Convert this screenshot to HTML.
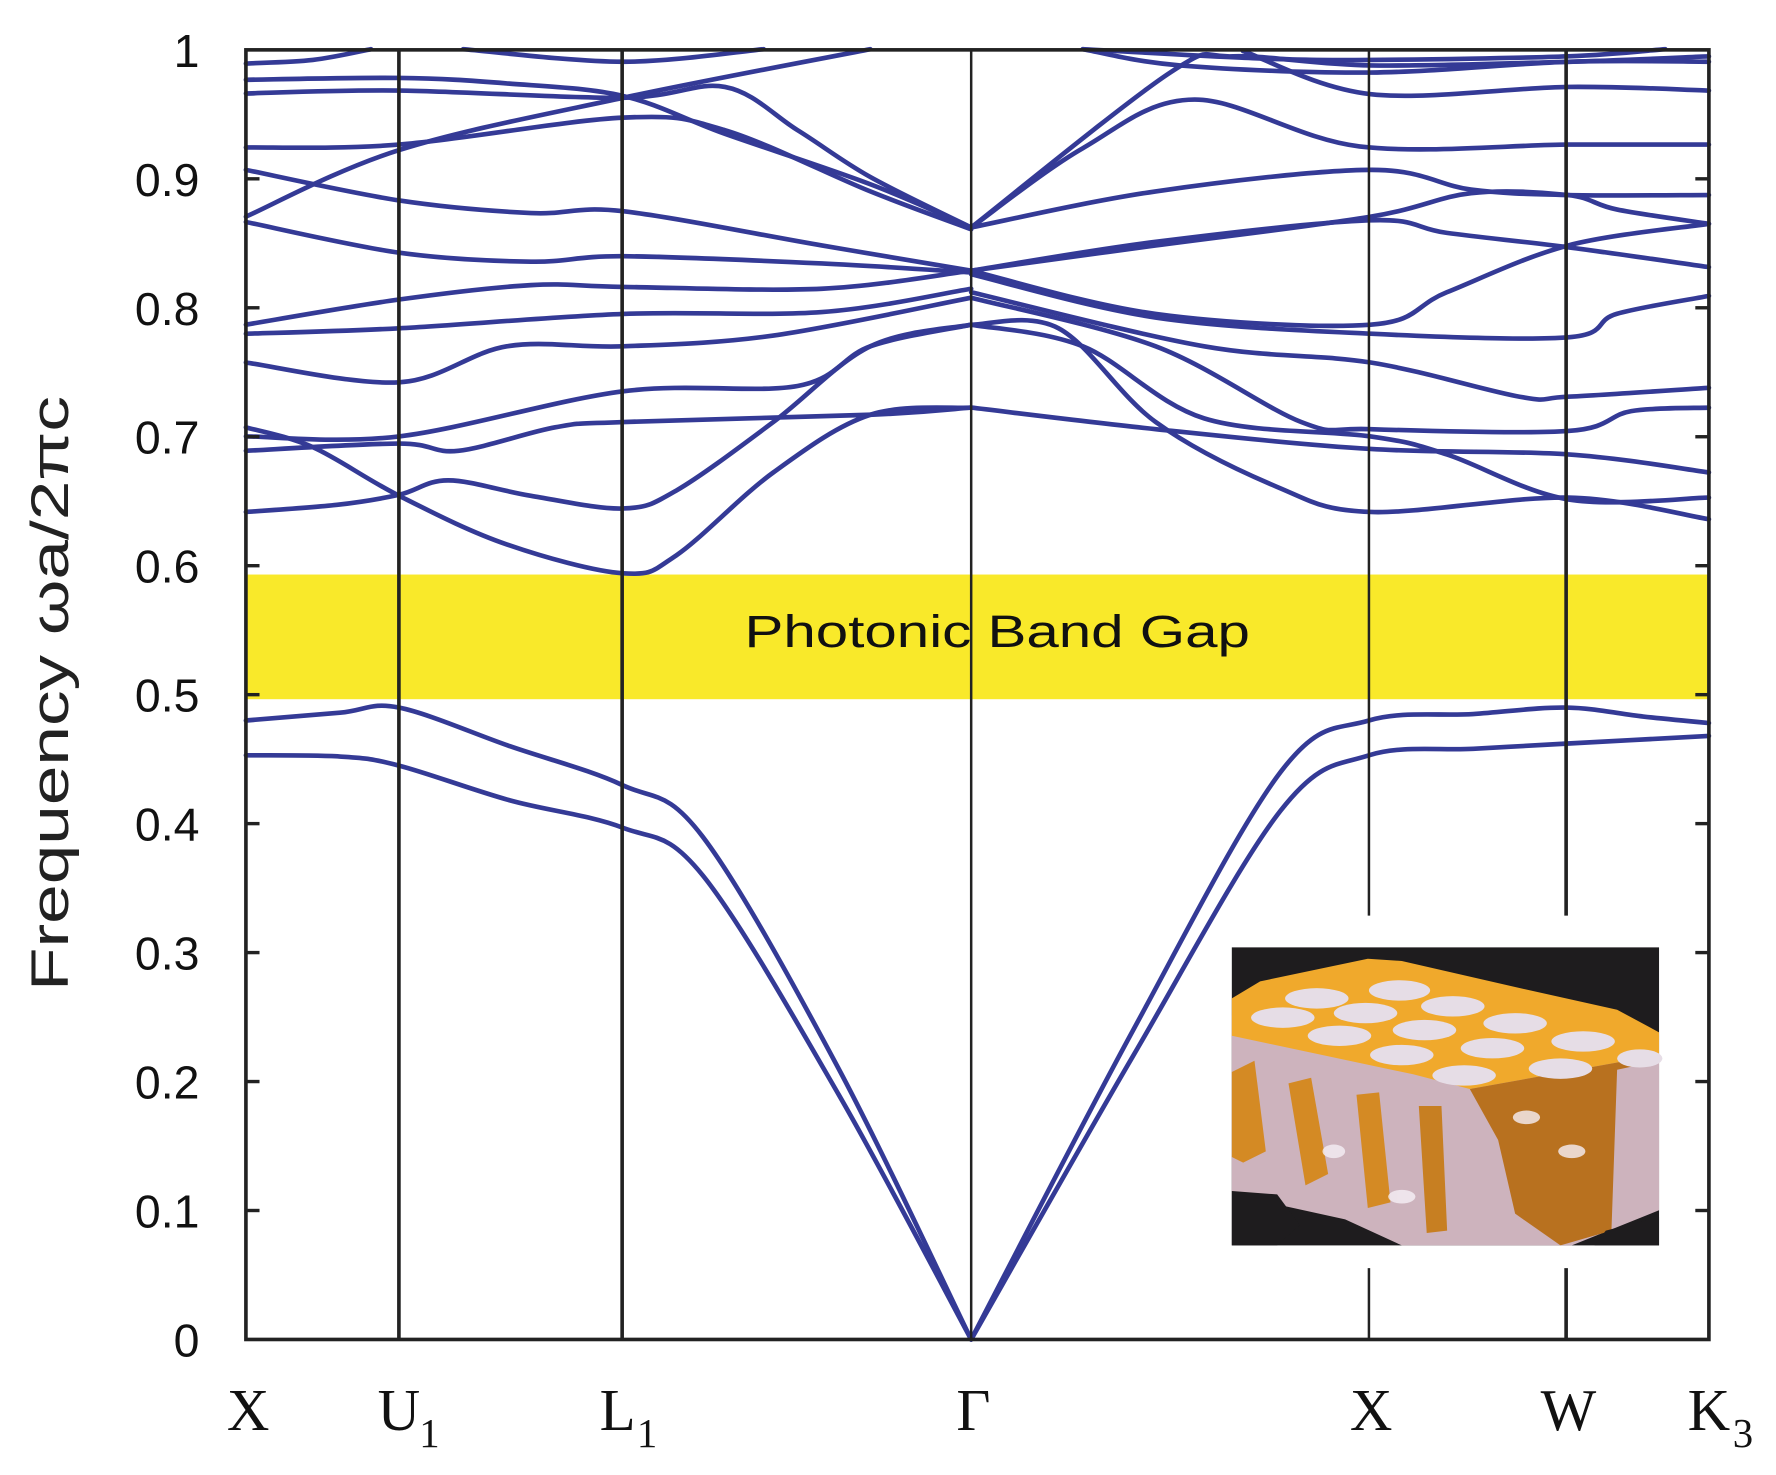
<!DOCTYPE html>
<html><head><meta charset="utf-8"><style>
html,body{margin:0;padding:0;background:#fff;}
svg{display:block;}
</style></head><body>
<svg id="s" width="1776" height="1475" viewBox="0 0 1567.2 1301.6" xmlns="http://www.w3.org/2000/svg">
<rect x="0" y="0" width="1567.2" height="1301.6" fill="#fff"/>
<rect x="217" y="507" width="1291" height="110" fill="#f9e92a"/>
<g id="bands" fill="none" stroke="#343a96" stroke-width="4.1" stroke-linejoin="round" stroke-linecap="round"></g>
<g stroke="#222" fill="none">
<line x1="352" y1="44" x2="352" y2="1182" stroke-width="3.2"/>
<line x1="549" y1="44" x2="549" y2="1182" stroke-width="3.2"/>
<line x1="857" y1="44" x2="857" y2="1182" stroke-width="2.2"/>
<line x1="1208" y1="44" x2="1208" y2="808" stroke-width="2.2"/>
<line x1="1208" y1="1119" x2="1208" y2="1182" stroke-width="2.2"/>
<line x1="1382" y1="44" x2="1382" y2="808" stroke-width="3.2"/>
<line x1="1382" y1="1119" x2="1382" y2="1182" stroke-width="3.2"/>
</g>
<g id="ticks" stroke="#222" stroke-width="3"></g>
<rect x="217" y="44" width="1291" height="1138" fill="none" stroke="#222" stroke-width="3.2"/>
<g transform="translate(1087,836)">
<rect x="0" y="0" width="377" height="263" fill="#1e1c1e"/>
<polygon points="0,60 377,78 377,232 300,263 150,263 100,240 0,218" fill="#cdb3bd"/>
<polygon points="0,45 25,30 120,10 150,12 250,35 340,55 377,75 377,95 210,125 160,112 0,78" fill="#f0a92c"/>
<polygon points="210,125 377,95 377,100 340,108 335,250 290,263 250,235 235,170" fill="#b8711f"/>
<polygon points="0,110 20,100 30,180 10,190 0,185" fill="#d48a24"/>
<polygon points="50,120 70,115 85,200 65,210" fill="#d48a24"/>
<polygon points="110,130 130,128 140,225 120,230" fill="#d48a24"/>
<polygon points="165,140 185,140 190,250 172,252" fill="#c77f22"/>
<g fill="#e6dde6">
<ellipse cx="75" cy="45" rx="28" ry="9"/><ellipse cx="148" cy="38" rx="27" ry="9"/>
<ellipse cx="45" cy="62" rx="28" ry="9"/><ellipse cx="118" cy="58" rx="28" ry="9"/><ellipse cx="195" cy="52" rx="28" ry="9"/>
<ellipse cx="95" cy="78" rx="28" ry="9"/><ellipse cx="170" cy="73" rx="28" ry="9"/><ellipse cx="250" cy="67" rx="28" ry="9"/>
<ellipse cx="150" cy="95" rx="28" ry="9"/><ellipse cx="230" cy="89" rx="28" ry="9"/><ellipse cx="310" cy="83" rx="28" ry="9"/>
<ellipse cx="205" cy="113" rx="28" ry="9"/><ellipse cx="290" cy="107" rx="28" ry="9"/><ellipse cx="360" cy="98" rx="20" ry="8"/>
</g>
<g fill="#f6f0f6" opacity="0.8">
<ellipse cx="260" cy="150" rx="12" ry="6"/><ellipse cx="300" cy="180" rx="12" ry="6"/><ellipse cx="90" cy="180" rx="10" ry="6"/><ellipse cx="150" cy="220" rx="12" ry="6"/>
</g>
<polygon points="0,215 40,218 60,245 40,263 0,263" fill="#1e1c1e"/>
<polygon points="330,250 377,238 377,263 320,263" fill="#1e1c1e"/>
</g>
<g font-family="Liberation Sans, sans-serif" font-size="41" fill="#111" text-anchor="end" id="tl"></g>
<text transform="translate(60,612) rotate(-90)" font-family="Liberation Sans, sans-serif" font-size="47" fill="#222" text-anchor="middle" textLength="525" lengthAdjust="spacingAndGlyphs">Frequency  ωa/2πc</text>
<text x="657" y="571" font-family="Liberation Sans, sans-serif" font-size="40" fill="#111" textLength="446" lengthAdjust="spacingAndGlyphs">Photonic  Band  Gap</text>
<g font-family="Liberation Serif, serif" font-size="52" fill="#111" text-anchor="middle">
<text x="219" y="1262">X</text>
<text x="352" y="1262">U</text><text x="379" y="1277" font-size="36">1</text>
<text x="545" y="1262">L</text><text x="571" y="1277" font-size="36">1</text>
<text x="859" y="1262">Γ</text>
<text x="1210" y="1262">X</text>
<text x="1384" y="1262">W</text>
<text x="1508" y="1262">K</text><text x="1538" y="1277" font-size="36">3</text>
</g>
</svg>
<script>
(function(){
var NS="http://www.w3.org/2000/svg";
function Y(f){return 1182-f*1138;}
function fy(py){return 0.9-(py-385)/3580;}
function z5(p){return [217+(p[0]-12)*0.4278, Y(fy(p[1]))];}
function z6(p){return [857+(p[0]-20)*0.4283, Y(fy(p[1]))];}
function df(p){return [p[0],Y(p[1])];}
function path(pts){
 var d="M"+pts[0][0].toFixed(1)+","+pts[0][1].toFixed(1);
 for(var i=0;i<pts.length-1;i++){
  var p0=pts[i-1]||pts[i],p1=pts[i],p2=pts[i+1],p3=pts[i+2]||pts[i+1];
  var c1=[p1[0]+(p2[0]-p0[0])/6,p1[1]+(p2[1]-p0[1])/6];
  var c2=[p2[0]-(p3[0]-p1[0])/6,p2[1]-(p3[1]-p1[1])/6];
  d+="C"+c1[0].toFixed(1)+","+c1[1].toFixed(1)+" "+c2[0].toFixed(1)+","+c2[1].toFixed(1)+" "+p2[0].toFixed(1)+","+p2[1].toFixed(1);
 }
 return d;
}
var g=document.getElementById("bands");
function add(pts,fn){var p=document.createElementNS(NS,"path");p.setAttribute("d",path(pts.map(fn)));g.appendChild(p);}
var L=[
[[12,1310],[200,1290],[328,1262],[430,1222],[600,1265],[790,1300],[900,1250],[1100,1060],[1300,850],[1508,790]],
[[12,1075],[150,1130],[328,1265],[550,1400],[790,1480],[900,1430],[1100,1200],[1300,1040],[1508,1020]],
[[12,1140],[328,1120],[450,1140],[650,1075],[790,1060],[1300,1040],[1508,1020]],
[[12,1100],[328,1100],[790,975],[1150,960],[1300,850],[1508,790]],
[[12,895],[328,950],[550,850],[790,850],[1100,820],[1508,715]],
[[12,815],[328,800],[790,760],[1200,755],[1508,690]],
[[12,790],[328,720],[600,680],[790,685],[1200,690],[1508,640]],
[[12,505],[328,590],[600,615],[790,600],[1200,620],[1508,645]],
[[12,360],[328,445],[600,480],[790,475],[1200,570],[1508,640]],
[[12,490],[328,305],[790,160],[1300,25]],
[[12,298],[328,290],[790,215],[1000,250],[1300,420],[1508,525]],
[[12,148],[328,140],[790,160],[1000,130],[1150,250],[1300,380],[1508,520]],
[[12,110],[328,105],[550,120],[790,155],[1000,260],[1300,400],[1508,520]],
[[12,65],[150,55],[270,25]],
[[460,25],[790,60],[1080,25]]
];
L.forEach(function(b){add(b,z5);});
var R=[
[[20,1020],[400,1080],[843,1135],[1250,1150],[1540,1200]],
[[20,790],[200,800],[400,1060],[650,1240],[843,1310],[1250,1270],[1540,1330]],
[[20,790],[250,850],[500,1050],[843,1100],[1000,1150],[1250,1275],[1540,1270]],
[[20,715],[400,850],[700,1060],[843,1080],[1250,1085],[1380,1030],[1540,1020]],
[[20,700],[500,850],[843,895],[1150,990],[1250,990],[1540,965]],
[[20,640],[400,760],[843,790],[1000,700],[1250,570],[1540,510]],
[[20,650],[400,770],[843,815],[1250,825],[1350,760],[1540,710]],
[[20,640],[400,560],[843,500],[1000,535],[1250,575],[1540,630]],
[[20,520],[400,420],[843,360],[1050,415],[1250,430],[1540,430]],
[[20,640],[400,570],[843,490],[1050,425],[1250,430],[1350,470],[1540,510]],
[[20,520],[250,300],[480,165],[820,295],[1250,290],[1540,290]],
[[20,520],[430,90],[560,45],[843,70],[1250,60],[1540,45]],
[[250,25],[450,70],[843,90],[1250,60],[1540,60]],
[[580,30],[843,150],[1250,130],[1540,140]],
[[250,25],[600,50],[843,55],[1250,45],[1450,25]]
];
R.forEach(function(b){add(b,z6);});
var D=[
[[217,.453],[300,.452],[352,.445],[450,.418],[549,.397],[620,.36],[740,.19],[857,0]],
[[857,0],[1000,.22],[1130,.41],[1208,.453],[1300,.458],[1382,.462],[1508,.468]],
[[217,.48],[300,.486],[352,.49],[450,.46],[549,.43],[620,.39],[740,.21],[857,0]],
[[857,0],[1000,.24],[1130,.44],[1208,.48],[1300,.485],[1382,.49],[1450,.483],[1508,.478]]
];
D.forEach(function(b){add(b,df);});
var t=document.getElementById("ticks"),tl=document.getElementById("tl");
for(var i=0;i<=10;i++){
 var y=Y(i/10);
 if(i>0&&i<10){
 [[217,229],[1496,1508]].forEach(function(s){var l=document.createElementNS(NS,"line");l.setAttribute("x1",s[0]);l.setAttribute("x2",s[1]);l.setAttribute("y1",y);l.setAttribute("y2",y);t.appendChild(l);});}
 var tx=document.createElementNS(NS,"text");tx.setAttribute("x",176);tx.setAttribute("y",y+15);
 tx.textContent=i==0?"0":(i==10?"1":"0."+i);tl.appendChild(tx);
}
})();
</script>
</body></html>
